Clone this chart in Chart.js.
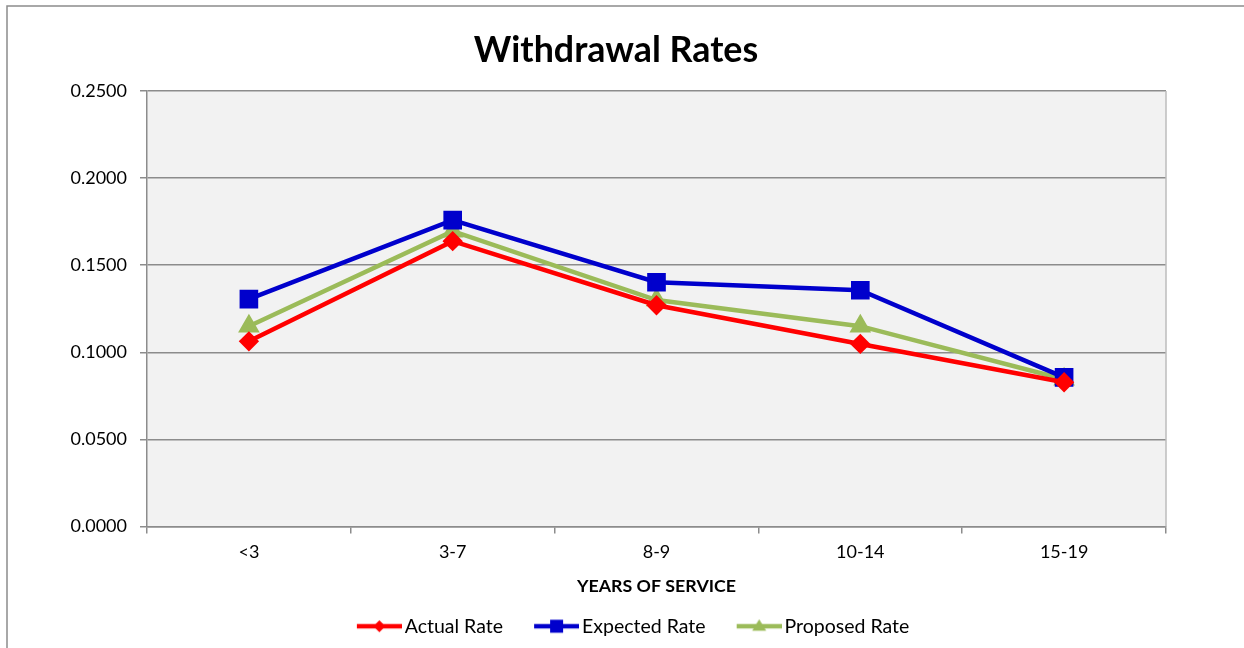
<!DOCTYPE html>
<html>
<head>
<meta charset="utf-8">
<script src="https://cdn.jsdelivr.net/npm/chart.js@4"></script>
<style>
html,body{margin:0;padding:0;background:#fff;}
#wrap{position:relative;width:1244px;height:648px;}
</style>
</head>
<body>
<div id="wrap"><canvas id="c"></canvas></div>
<script>
const categories = ['<3', '3-7', '8-9', '10-14', '15-19'];
const actualRate = [0.1063, 0.1638, 0.1270, 0.1048, 0.0828];
const expectedRate = [0.1305, 0.1759, 0.1402, 0.1356, 0.0856];
const proposedRate = [0.1150, 0.1695, 0.1300, 0.1150, 0.0845];
const yTicks = [0, 0.05, 0.10, 0.15, 0.20, 0.25];
const chartTitle = 'Withdrawal Rates';

const FONT = 'Lato, "Liberation Sans", sans-serif';

// legend icon: transparent left part, line + marker at right end
function legendIcon(color, style) {
  const cv = document.createElement('canvas');
  cv.width = 81; cv.height = 18;
  const g = cv.getContext('2d');
  g.strokeStyle = color; g.lineWidth = 4.5; g.lineCap = 'butt';
  g.beginPath(); g.moveTo(36, 9); g.lineTo(81, 9); g.stroke();
  g.fillStyle = color;
  const cx = 58.5, cy = 9;
  g.beginPath();
  if (style === 'diamond') {
    g.moveTo(cx, cy - 6); g.lineTo(cx + 6, cy); g.lineTo(cx, cy + 6); g.lineTo(cx - 6, cy); g.closePath();
  } else if (style === 'square') {
    g.rect(cx - 6.5, cy - 6.5, 13, 13);
  } else {
    g.moveTo(cx, cy - 7); g.lineTo(cx + 7, cy + 4.5); g.lineTo(cx - 7, cy + 4.5); g.closePath();
  }
  g.fill();
  return cv;
}

const framePlugin = {
  id: 'frame',
  beforeDraw(chart) {
    const {ctx, chartArea: a} = chart;
    ctx.save();
    ctx.fillStyle = '#ffffff';
    ctx.fillRect(0, 0, chart.width, chart.height);
    ctx.fillStyle = '#f2f2f2';
    ctx.fillRect(a.left, a.top, a.right - a.left, a.bottom - a.top);
    ctx.strokeStyle = '#8c8c8c';
    ctx.lineWidth = 1.5;
    ctx.strokeRect(7, 6, 1300, 700);
    ctx.fillStyle = '#000';
    ctx.font = 'bold 35.8px ' + FONT;
    ctx.textAlign = 'center';
    ctx.textBaseline = 'middle';
    ctx.fillText(chartTitle, 616, 50);
    ctx.restore();
  },
  beforeDatasetsDraw(chart) {
    const {ctx, chartArea: a} = chart;
    ctx.save();
    ctx.strokeStyle = '#bdbdbd';
    ctx.lineWidth = 1.5;
    ctx.beginPath(); ctx.moveTo(a.right, a.top); ctx.lineTo(a.right, a.bottom); ctx.stroke();
    ctx.restore();
  }
};

const icons = [legendIcon('#ff0000', 'diamond'), legendIcon('#0000cc', 'square'), legendIcon('#9bbb59', 'triangle')];

new Chart(document.getElementById('c'), {
  type: 'line',
  data: {
    labels: categories,
    datasets: [
      {label: 'Actual Rate', data: actualRate, borderColor: '#ff0000', backgroundColor: '#ff0000',
       borderWidth: 4.5, pointStyle: 'rectRot', pointRadius: 7, pointHoverRadius: 7, tension: 0},
      {label: 'Expected Rate', data: expectedRate, borderColor: '#0000cc', backgroundColor: '#0000cc',
       borderWidth: 4.5, pointStyle: 'rect', pointRadius: 10, pointHoverRadius: 10, tension: 0},
      {label: 'Proposed Rate', data: proposedRate, borderColor: '#9bbb59', backgroundColor: '#9bbb59',
       borderWidth: 4.5, pointStyle: 'triangle', pointRadius: 8, pointHoverRadius: 8, tension: 0}
    ]
  },
  options: {
    responsive: true,
    maintainAspectRatio: false,
    animation: false,
    layout: {padding: {left: 71, right: 78, top: 91, bottom: 2}},
    plugins: {
      tooltip: {enabled: false},
      title: {display: false},
      legend: {
        position: 'bottom',
        labels: {
          color: '#000',
          font: {family: FONT, size: 19.5},
          usePointStyle: true,
          pointStyleWidth: 67.25,
          padding: 2,
          generateLabels(chart) {
            return chart.data.datasets.map((ds, i) => ({
              text: ds.label, pointStyle: icons[i], fillStyle: ds.borderColor,
              strokeStyle: ds.borderColor, lineWidth: 0, datasetIndex: i, hidden: false, fontColor: '#000'
            }));
          }
        }
      }
    },
    scales: {
      x: {
        offset: true,
        grid: {display: true, offset: true, drawOnChartArea: false, drawTicks: true, tickLength: 7, color: '#8c8c8c', lineWidth: 1.5},
        border: {display: true, color: '#8c8c8c', width: 1.5},
        ticks: {color: '#000', font: {family: FONT, size: 18}, padding: 8},
        title: {display: true, text: 'YEARS OF SERVICE', color: '#000', font: {family: FONT, size: 17.8, weight: 'bold'}, padding: {top: 0, bottom: 18}},
        afterFit(s) { s.height = 88; }
      },
      y: {
        min: 0, max: 0.25,
        afterBuildTicks(s) { s.ticks = yTicks.map(v => ({value: v})); },
        grid: {color: '#8c8c8c', lineWidth: 1.5, tickLength: 7, drawTicks: true},
        border: {display: true, color: '#8c8c8c', width: 1.5},
        ticks: {color: '#000', font: {family: FONT, size: 18}, padding: 13, callback: v => Number(v).toFixed(4)},
        afterFit(s) { s.width = 76; }
      }
    }
  },
  plugins: [framePlugin]
});
</script>
</body>
</html>
